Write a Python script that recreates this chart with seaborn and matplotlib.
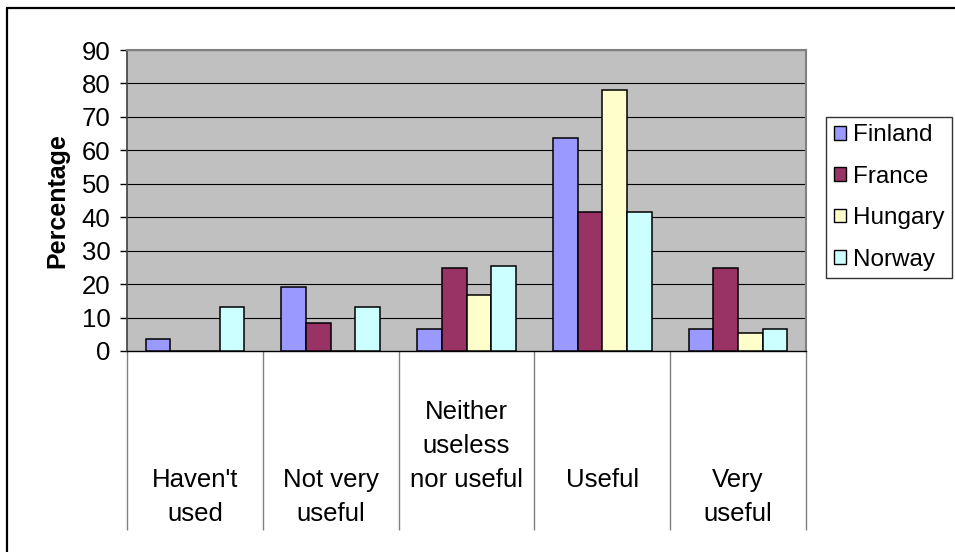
import matplotlib
matplotlib.use("Agg")
import matplotlib.pyplot as plt
from matplotlib.lines import Line2D
from matplotlib.patches import Patch
import seaborn as sns
import pandas as pd

categories = ["Haven't used", "Not very useful", "Neither useless nor useful", "Useful", "Very useful"]
category_labels = ["\n\nHaven't\nused", "\n\nNot very\nuseful", "Neither\nuseless\nnor useful\n",
                   "\n\nUseful\n", "\n\nVery\nuseful"]
countries = ["Finland", "France", "Hungary", "Norway"]
finland = [3.5, 19.1, 6.5, 63.7, 6.5]
france = [0.0, 8.3, 24.9, 41.6, 24.9]
hungary = [0.0, 0.0, 16.6, 78.0, 5.3]
norway = [13.1, 13.1, 25.4, 41.6, 6.5]
colors = ["#9999FF", "#993366", "#FFFFCC", "#CCFFFF"]
y_ticks = [0, 10, 20, 30, 40, 50, 60, 70, 80, 90]

series = {"Finland": finland, "France": france, "Hungary": hungary, "Norway": norway}
rows = []
for country in countries:
    for cat, val in zip(categories, series[country]):
        rows.append({"category": cat, "country": country, "value": val})
df = pd.DataFrame(rows)

sns.set_style("white")
plt.rcParams["font.family"] = ["Liberation Sans", "DejaVu Sans"]
plt.rcParams["text.color"] = "black"
plt.rcParams["xtick.color"] = "black"
plt.rcParams["ytick.color"] = "black"
plt.rcParams["axes.labelcolor"] = "black"

FS = 18.5

W, H = 955, 552
fig = plt.figure(figsize=(W / 100, H / 100), dpi=100)
fig.patch.set_facecolor("white")

left, right, top, bottom = 127, 806, 50, 351
ax = fig.add_axes([left / W, 1 - bottom / H, (right - left) / W, (bottom - top) / H])
ax.set_facecolor("#C0C0C0")

sns.barplot(data=df, x="category", y="value", hue="country", order=categories,
            hue_order=countries, palette=colors, width=0.727, gap=0,
            edgecolor="black", linewidth=1.1, saturation=1, ax=ax, legend=False,
            zorder=3)

ax.set_ylim(0, 90)
ax.set_xlim(-0.5, len(categories) - 0.5)
ax.set_yticks(y_ticks)
ax.set_yticklabels([str(t) for t in y_ticks], fontsize=FS, color="black")
ax.tick_params(axis="y", length=5, width=1, color="black", pad=7, left=True)
for t in y_ticks[1:]:
    ax.axhline(t, color="black", linewidth=0.8, zorder=1)

# category separators below the plot area
ax.set_xticks([i - 0.5 for i in range(len(categories) + 1)])
ax.set_xticklabels([])
ax.tick_params(axis="x", length=129, width=1, color="#808080", bottom=True, direction="out")
ax.set_xlabel("")
for i, lab in enumerate(category_labels):
    ax.text(i, -0.372, lab, transform=ax.get_xaxis_transform(), ha="center", va="center",
            multialignment="center", fontsize=FS, linespacing=1.52, color="black")

ax.set_ylabel("Percentage", fontsize=18, fontweight="bold", labelpad=9, color="black")

for side in ["top", "right"]:
    ax.spines[side].set_color("#808080")
    ax.spines[side].set_linewidth(1.5)
ax.spines["bottom"].set_color("black")
ax.spines["bottom"].set_linewidth(1)
ax.spines["left"].set_color("#404040")
ax.spines["left"].set_linewidth(1.2)

handles = [Patch(facecolor=c, edgecolor="black", linewidth=1.0) for c in colors]
leg = fig.legend(handles, countries, loc="upper right",
                 bbox_to_anchor=(952 / W, 1 - 117 / H), fontsize=17.5,
                 frameon=True, fancybox=False, edgecolor="black",
                 handlelength=0.5, handleheight=0.5, handletextpad=0.3,
                 labelspacing=0.8, borderpad=0.3, borderaxespad=0)
leg.get_frame().set_linewidth(1.0)
for txt in leg.get_texts():
    txt.set_color("black")

# outer chart border
fig.add_artist(Line2D([7 / W, 7 / W], [0, 1 - 8 / H], color="black", linewidth=1.6))
fig.add_artist(Line2D([7 / W, 1], [1 - 8 / H, 1 - 8 / H], color="black", linewidth=1.6))

fig.savefig("out.png", dpi=100)
